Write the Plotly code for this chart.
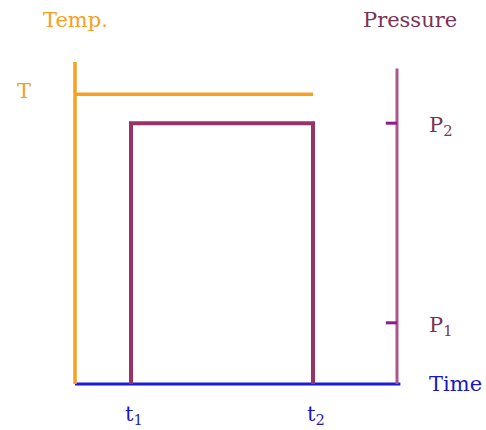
import plotly.graph_objects as go

# ---- data (arbitrary units) ----
t1, t2, t_end = 1.0, 4.25, 5.75          # time instants
time_labels = ["t<sub>1</sub>", "t<sub>2</sub>"]
temp_level = 9.0                          # T
temp_axis_top = 10.0
pressure_axis_top = 9.8
p_levels = [8.1, 1.9]                     # P2, P1
p_labels = ["P<sub>2</sub>", "P<sub>1</sub>"]

temp_x = [0, t2]
temp_y = [temp_level, temp_level]
pressure_x = [t1, t1, t2, t2]
pressure_y = [0, p_levels[0], p_levels[0], 0]

# ---- styling ----
ORANGE = "#F4A124"
MAROON = "#993366"
MAUVE = "#A8588A"
TICKC = "#901A88"
BLUE = "#1A1AE6"
TXT_P = "#7A3355"
TXT_B = "#1A1AB8"
FONT = "DejaVu Serif"
FS = 21
W, H = 486, 430
# pixel mapping for the axes
x0_px, x_scale = 75, 56.0
y0_px, y_scale = 384, 32.2


def px(xp):
    return xp / W


def py(yp):
    return 1 - yp / H


fig = go.Figure()
# time axis (blue)
fig.add_trace(go.Scatter(x=[0, t_end + 0.06], y=[0, 0], mode="lines",
                         line=dict(color=BLUE, width=3), hoverinfo="skip"))
# temperature axis (orange)
fig.add_trace(go.Scatter(x=[0, 0], y=[0, temp_axis_top], mode="lines",
                         line=dict(color=ORANGE, width=3.5), hoverinfo="skip"))
# pressure axis
fig.add_trace(go.Scatter(x=[t_end, t_end], y=[0, pressure_axis_top], mode="lines",
                         line=dict(color=MAUVE, width=3), hoverinfo="skip"))
# pressure ticks
for p in p_levels:
    fig.add_trace(go.Scatter(x=[t_end - 0.2, t_end], y=[p, p], mode="lines",
                             line=dict(color=TICKC, width=3), hoverinfo="skip"))
# temperature curve
fig.add_trace(go.Scatter(x=temp_x, y=temp_y, mode="lines",
                         line=dict(color=ORANGE, width=3.5), hoverinfo="skip"))
# pressure curve
fig.add_trace(go.Scatter(x=pressure_x, y=pressure_y, mode="lines",
                         line=dict(color=MAROON, width=4), hoverinfo="skip"))

ann = []
ann.append(dict(text="Temp.", xref="paper", yref="paper", x=px(75), y=py(20),
                xanchor="center", yanchor="middle",
                showarrow=False, font=dict(family=FONT, size=FS, color=ORANGE)))
ann.append(dict(text="Pressure", xref="paper", yref="paper", x=px(410), y=py(20),
                xanchor="center", yanchor="middle",
                showarrow=False, font=dict(family=FONT, size=FS, color=TXT_P)))
ann.append(dict(text="T", x=0, y=temp_level, xshift=-51, yshift=3, showarrow=False,
                font=dict(family=FONT, size=FS, color=ORANGE)))
for p, lab in zip(p_levels, p_labels):
    ann.append(dict(text=lab, x=t_end, y=p, xanchor="left", xshift=30, yshift=-3,
                    showarrow=False, font=dict(family=FONT, size=FS, color=TXT_P)))
ann.append(dict(text="Time", x=t_end, y=0, xanchor="left", xshift=30, yshift=0,
                showarrow=False, font=dict(family=FONT, size=FS, color=TXT_B)))
for t, lab in zip([t1, t2], time_labels):
    ann.append(dict(text=lab, x=t, y=0, yanchor="top", xshift=3, yshift=-16,
                    showarrow=False, font=dict(family=FONT, size=FS, color=TXT_B)))

fig.update_layout(
    width=W, height=H,
    margin=dict(l=0, r=0, t=0, b=0),
    paper_bgcolor="white", plot_bgcolor="white",
    showlegend=False,
    xaxis=dict(range=[-x0_px / x_scale, (W - x0_px) / x_scale], visible=False, fixedrange=True),
    yaxis=dict(range=[-(H - y0_px) / y_scale, y0_px / y_scale], visible=False, fixedrange=True),
    annotations=ann,
)
fig.write_html(
    "out.html",
    config={"displayModeBar": False},
    post_script="document.body.style.margin='0';document.body.style.overflow='hidden';",
)
